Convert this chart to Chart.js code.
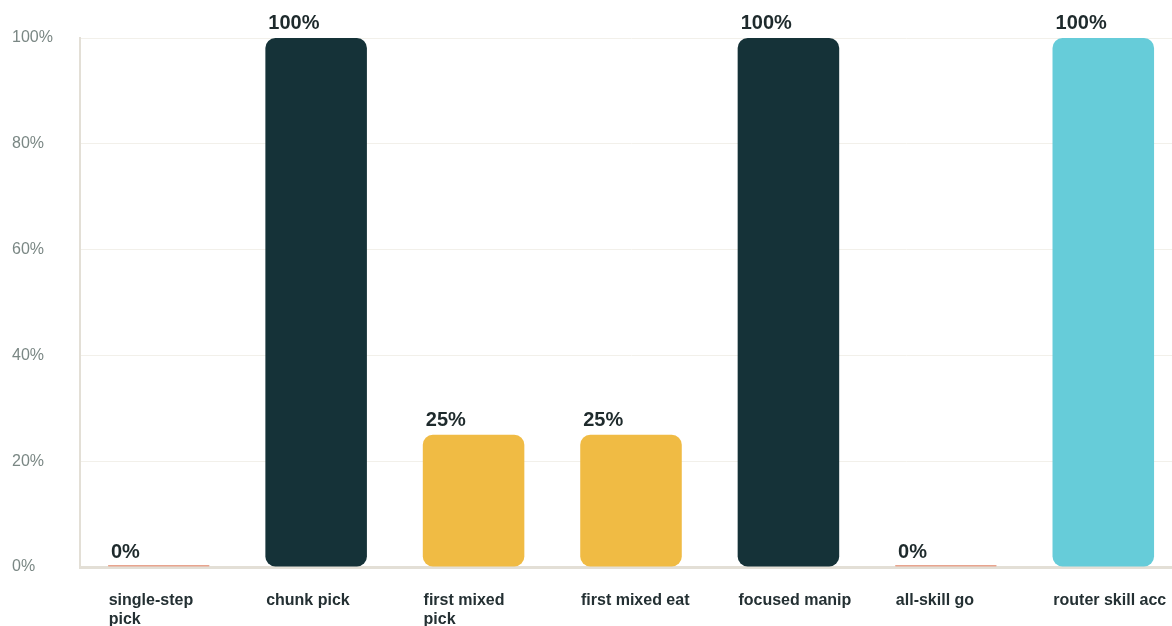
<!DOCTYPE html>
<html>
<head>
<meta charset="utf-8">
<script src="https://cdn.jsdelivr.net/npm/chart.js@4.4.1/dist/chart.umd.min.js"></script>
<style>
  html, body { margin: 0; padding: 0; background: #fff; overflow: hidden; }
  #mycanvas { display: block; width: 1184px; height: 626px; }
</style>
</head>
<body>
<canvas id="mycanvas" width="1184" height="626"></canvas>
<script>
// chart values
var categories = [
  ['single-step', 'pick'],
  'chunk pick',
  ['first mixed', 'pick'],
  'first mixed eat',
  'focused manip',
  'all-skill go',
  'router skill acc'
];
var scores = [0, 100, 25, 25, 100, 0, 100];
var barColors = ['#E8A48E', '#153238', '#F0BB44', '#F0BB44', '#153238', '#E8A48E', '#66CCD9'];
var yTicks = [0, 20, 40, 60, 80, 100];

// draws the "NN%" text above each bar, starting at the bar's left edge
var valueLabels = {
  id: 'valueLabels',
  afterDatasetsDraw: function(chart) {
    var ctx = chart.ctx;
    var meta = chart.getDatasetMeta(0);
    ctx.save();
    ctx.font = 'bold 20px "Liberation Sans", Arial, sans-serif';
    ctx.fillStyle = '#1E2A2C';
    ctx.textAlign = 'left';
    ctx.textBaseline = 'alphabetic';
    meta.data.forEach(function(bar, i) {
      var left = bar.x - bar.width / 2;
      var top = chart.scales.y.getPixelForValue(scores[i]);
      ctx.fillText(scores[i] + '%', left + 3, top - 9);
    });
    ctx.restore();
  }
};

var ctx = document.getElementById('mycanvas');

var barGraph = new Chart(ctx, {
  type: 'bar',
  data: {
    labels: categories,
    datasets: [{
      data: scores,
      backgroundColor: barColors,
      borderRadius: 10,
      borderSkipped: false,
      minBarLength: 2,
      barPercentage: 0.645,
      categoryPercentage: 1
    }]
  },
  options: {
    responsive: false,
    animation: false,
    layout: { padding: { top: 38, left: 12, right: 2, bottom: 0 } },
    plugins: {
      legend: { display: false },
      tooltip: { enabled: false }
    },
    scales: {
      x: {
        grid: { display: false },
        border: { color: '#E3DFD6', width: 3 },
        ticks: {
          align: 'start',
          labelOffset: -50,
          padding: 16,
          maxRotation: 0,
          autoSkip: false,
          color: '#243033',
          font: { family: '"Liberation Sans", Arial, sans-serif', size: 16, weight: 'bold', lineHeight: 1.2 }
        },
        afterFit: function(scale) {
          scale.height = 59;
          scale.paddingLeft = 0;
          scale.paddingRight = 0;
        }
      },
      y: {
        min: 0,
        max: 100,
        afterBuildTicks: function(scale) {
          scale.ticks = yTicks.map(function(v) { return { value: v }; });
        },
        grid: { color: '#F2F0EA', drawTicks: false },
        border: { color: '#E3DFD6', width: 2 },
        ticks: {
          crossAlign: 'far',
          padding: 10,
          color: '#7A8784',
          font: { family: '"Liberation Sans", Arial, sans-serif', size: 16 },
          callback: function(v) { return v + '%'; }
        },
        afterFit: function(scale) { scale.width = 68; }
      }
    }
  },
  plugins: [valueLabels]
});
</script>
</body>
</html>
